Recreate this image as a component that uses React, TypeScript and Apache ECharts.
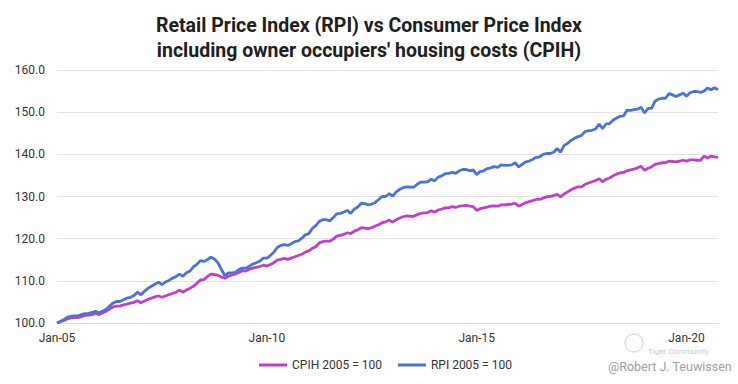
import React, { useEffect, useRef } from "react";
import * as echarts from "echarts";

const years = ["05","06","07","08","09","10","11","12","13","14","15","16","17","18","19","20"];
const months = ["Jan","Feb","Mar","Apr","May","Jun","Jul","Aug","Sep","Oct","Nov","Dec"];
const monthsInLast = 10;
const categories: string[] = [];
years.forEach((y, i) => {
  const n = i === years.length - 1 ? monthsInLast : 12;
  for (let m = 0; m < n; m++) categories.push(`${months[m]}-${y}`);
});

const cpih = [
  100.0, 100.3, 100.6, 101.0, 101.2, 101.3, 101.3, 101.5, 101.8, 101.9, 102.0, 102.3,
  102.0, 102.4, 102.8, 103.3, 103.8, 104.0, 104.0, 104.3, 104.5, 104.7, 104.9, 105.3,
  104.8, 105.2, 105.6, 105.9, 106.2, 106.4, 106.1, 106.4, 106.7, 107.0, 107.3, 107.8,
  107.3, 107.8, 108.2, 108.7, 109.4, 110.2, 110.3, 111.0, 111.6, 111.5, 111.3, 110.9,
  110.6, 111.1, 111.4, 111.6, 112.0, 112.4, 112.3, 112.8, 113.0, 113.2, 113.4, 113.7,
  113.5, 113.9, 114.3, 114.9, 115.1, 115.3, 115.1, 115.4, 115.7, 116.0, 116.3, 116.8,
  117.1, 117.7, 118.1, 119.0, 119.3, 119.4, 119.4, 119.9, 120.6, 120.8, 121.0, 121.4,
  121.2, 121.8, 122.1, 122.6, 122.5, 122.4, 122.6, 123.0, 123.3, 123.8, 124.0, 124.4,
  123.9, 124.5, 124.9, 125.2, 125.4, 125.3, 125.3, 125.7, 126.0, 126.1, 126.2, 126.6,
  126.3, 126.8, 127.0, 127.3, 127.3, 127.6, 127.4, 127.7, 127.8, 127.9, 127.7, 127.6,
  126.7, 127.1, 127.3, 127.5, 127.7, 127.8, 127.7, 128.0, 128.0, 128.1, 128.2, 128.4,
  127.7, 128.1, 128.5, 128.8, 129.0, 129.3, 129.3, 129.6, 129.9, 130.0, 130.2, 130.5,
  129.9, 130.6, 131.1, 131.6, 132.0, 132.3, 132.3, 132.9, 133.2, 133.5, 133.8, 134.2,
  133.5, 134.1, 134.4, 134.9, 135.3, 135.6, 135.7, 136.1, 136.3, 136.5, 136.8, 137.2,
  136.2, 136.7, 137.0, 137.6, 137.8, 138.0, 138.0, 138.4, 138.3, 138.2, 138.4, 138.6,
  138.4, 138.7, 138.7, 138.6, 138.6, 139.6, 139.1, 139.6, 139.4, 139.3,
];

const rpi = [
  100.0, 100.4, 100.8, 101.4, 101.6, 101.7, 101.7, 102.0, 102.2, 102.3, 102.5, 102.8,
  102.4, 102.8, 103.2, 104.0, 104.7, 105.1, 105.1, 105.5, 105.9, 106.1, 106.5, 107.3,
  106.7, 107.5, 108.2, 108.7, 109.2, 109.7, 109.1, 109.7, 110.1, 110.6, 111.0, 111.6,
  111.1, 111.9, 112.3, 113.3, 113.9, 114.8, 114.6, 115.0, 115.6, 115.2, 114.3, 112.7,
  111.2, 111.9, 111.9, 112.0, 112.7, 113.0, 113.0, 113.5, 114.0, 114.3, 114.7, 115.4,
  115.4, 116.0, 116.8, 117.9, 118.4, 118.6, 118.4, 118.8, 119.3, 119.5, 120.1, 120.9,
  121.2, 122.4, 123.1, 124.1, 124.5, 124.5, 124.2, 125.0, 125.9, 126.0, 126.3, 126.7,
  126.0, 127.0, 127.5, 128.4, 128.3, 128.0, 128.2, 128.6, 129.3, 130.0, 130.0, 130.7,
  130.1, 131.1, 131.7, 132.1, 132.3, 132.2, 132.2, 132.9, 133.4, 133.4, 133.5, 134.1,
  133.7, 134.6, 134.9, 135.4, 135.5, 135.7, 135.5, 136.1, 136.4, 136.4, 136.1, 136.3,
  135.2, 135.9, 136.1, 136.6, 136.8, 137.1, 136.9, 137.5, 137.4, 137.4, 137.5, 138.0,
  137.0, 137.6, 138.2, 138.4, 138.8, 139.3, 139.4, 140.0, 140.2, 140.2, 140.5, 141.4,
  140.5, 142.1, 142.6, 143.3, 143.8, 144.2, 144.5, 145.4, 145.6, 145.7, 146.0, 147.2,
  146.1, 147.2, 147.3, 148.1, 148.6, 149.0, 149.1, 150.5, 150.4, 150.6, 150.7, 151.2,
  149.8, 150.9, 150.9, 152.6, 153.1, 153.3, 153.3, 154.4, 154.1, 153.7, 154.1, 154.5,
  153.8, 154.6, 154.9, 154.9, 154.7, 155.0, 155.7, 155.3, 155.8, 155.3,
];

const titleLines = [
  "Retail Price Index (RPI) vs Consumer Price Index",
  "including owner occupiers' housing costs (CPIH)",
];
const seriesNames = ["CPIH 2005 = 100", "RPI 2005 = 100"];
const colors = ["#c03ec9", "#4b73d6"];
const credit = "@Robert J. Teuwissen";
const watermark = "Tiger Community";

export default function App() {
  const ref = useRef<HTMLDivElement>(null);
  useEffect(() => {
    document.body.style.margin = "0";
    if (!ref.current) return;
    const chart = echarts.init(ref.current, null, { renderer: "svg" });
    const font = "Roboto, 'Noto Sans', sans-serif";
    chart.setOption({
      animation: false,
      backgroundColor: "#ffffff",
      textStyle: { fontFamily: font },
      title: {
        text: titleLines.join("\n"),
        left: "center",
        top: 8,
        textStyle: {
          fontFamily: font,
          fontSize: 19.5,
          fontWeight: "bold",
          color: "#202020",
          lineHeight: 25,
        },
      },
      grid: { left: 57, right: 20, top: 70, bottom: 61 },
      xAxis: {
        type: "category",
        data: categories,
        boundaryGap: false,
        axisLine: { show: true, lineStyle: { color: "#dddddd" } },
        axisTick: { show: false },
        axisLabel: {
          interval: (i: number) => i % 60 === 0,
          color: "#333333",
          fontSize: 12,
          fontFamily: font,
          margin: 9,
        },
        splitLine: { show: false },
      },
      yAxis: {
        type: "value",
        min: 100,
        max: 160,
        interval: 10,
        axisLine: { show: false },
        axisTick: { show: false },
        axisLabel: {
          color: "#333333",
          fontSize: 12,
          fontFamily: font,
          formatter: (v: number) => v.toFixed(1),
          margin: 12,
        },
        splitLine: { lineStyle: { color: "#e3e3e3", width: 1 } },
      },
      legend: {
        top: 354,
        left: 254,
        itemWidth: 28,
        itemHeight: 3,
        itemGap: 16,
        icon: "rect",
        textStyle: { color: "#333333", fontSize: 12, fontFamily: font },
        data: seriesNames,
      },
      series: [
        {
          name: seriesNames[0],
          type: "line",
          data: cpih,
          showSymbol: false,
          symbol: "none",
          lineStyle: { color: colors[0], width: 2.8 },
          itemStyle: { color: colors[0] },
          z: 2,
        },
        {
          name: seriesNames[1],
          type: "line",
          data: rpi,
          showSymbol: false,
          symbol: "none",
          lineStyle: { color: colors[1], width: 2.8 },
          itemStyle: { color: colors[1] },
          z: 3,
        },
      ],
      graphic: [
        {
          type: "text",
          right: 6,
          top: 360,
          style: {
            text: credit,
            fill: "#a0a0a0",
            fontSize: 12.5,
            fontFamily: font,
          },
        },
        {
          type: "text",
          left: 648,
          top: 347,
          style: {
            text: watermark,
            fill: "#cccccc",
            fontSize: 8,
            fontFamily: font,
          },
        },
        {
          type: "circle",
          shape: { cx: 634, cy: 343, r: 9 },
          style: { fill: "none", stroke: "#cccccc", lineWidth: 1 },
        },
      ],
    });
    return () => chart.dispose();
  }, []);
  return <div ref={ref} style={{ width: 738, height: 384 }} />;
}
